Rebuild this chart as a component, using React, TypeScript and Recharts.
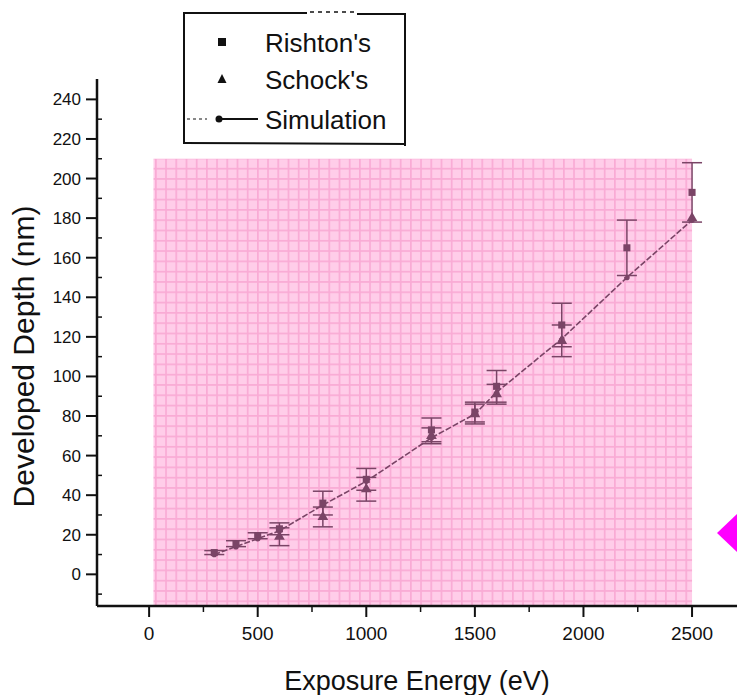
import {
  ComposedChart,
  Scatter,
  Line,
  XAxis,
  YAxis,
  ZAxis,
  ReferenceArea,
  ErrorBar,
  Label,
} from "recharts"

// simulated depth curve (eV -> nm)
const simEnergy = [300, 400, 500, 600, 800, 1000, 1300, 1500, 1600, 1900, 2200, 2500]
const simDepth = [10, 14, 18, 22, 35, 47, 69, 81, 92, 119, 150, 179]

// Rishton's measurements
const rishtonEnergy = [300, 400, 500, 600, 800, 1000, 1300, 1500, 1600, 1900, 2200, 2500]
const rishtonDepth = [11, 15.5, 19.5, 23, 36, 48, 73, 82, 95, 126, 165, 193]
const rishtonErr = [1, 1.5, 1.5, 3, 6, 5.5, 6, 5, 8, 11, 14, 15]

// Schock's measurements
const schockEnergy = [600, 800, 1000, 1300, 1500, 1600, 1900, 2500]
const schockDepth = [19, 29, 43, 70, 81, 91, 118, 180]
const schockErr = [4.5, 5, 6, 4, 5, 5, 8, 0]

const xTicks = [0, 250, 500, 750, 1000, 1250, 1500, 1750, 2000, 2250, 2500]
const yTicks = [
  -10, 0, 10, 20, 30, 40, 50, 60, 70, 80, 90, 100, 110, 120, 130, 140, 150, 160, 170, 180, 190,
  200, 210, 220, 230, 240,
]

const simulation = simEnergy.map((energy, i) => ({ energy, depth: simDepth[i] }))
const rishton = rishtonEnergy.map((energy, i) => ({ energy, depth: rishtonDepth[i], err: rishtonErr[i] }))
const schock = schockEnergy.map((energy, i) => ({ energy, depth: schockDepth[i], err: schockErr[i] }))

const FONT = "'Liberation Sans', Arial, Helvetica, sans-serif"
const INK = "#111"
const MARK = "#7a4466"

function YTick({ x, y, payload }: any) {
  const v = payload.value
  if (v % 20 !== 0) {
    return <line x1={x} y1={y} x2={x + 5} y2={y} stroke={INK} strokeWidth={1.5} />
  }
  return (
    <g>
      <line x1={x - 11} y1={y} x2={x} y2={y} stroke={INK} strokeWidth={2} />
      <text x={x - 16} y={y} dy={6} textAnchor="end" fontSize={17} fontFamily={FONT} fill={INK}>
        {v}
      </text>
    </g>
  )
}

function XTick({ x, y, payload }: any) {
  const v = payload.value
  if (v % 500 !== 0) {
    return <line x1={x} y1={y} x2={x} y2={y + 6} stroke={INK} strokeWidth={1.5} />
  }
  return (
    <g>
      <line x1={x} y1={y} x2={x} y2={y + 11} stroke={INK} strokeWidth={2} />
      <text x={x} y={y + 34} textAnchor="middle" fontSize={19} fontFamily={FONT} fill={INK}>
        {v}
      </text>
    </g>
  )
}

function YTitle({ viewBox }: any) {
  const cx = viewBox.x + 23
  const cy = viewBox.y + viewBox.height / 2 + 14
  return (
    <text
      x={cx}
      y={cy}
      transform={`rotate(-90 ${cx} ${cy})`}
      textAnchor="middle"
      dominantBaseline="central"
      fontSize={30}
      fontFamily={FONT}
      fill={INK}
    >
      Developed Depth (nm)
    </text>
  )
}

function LegendBox() {
  return (
    <svg width={737} height={695} style={{ position: "absolute", left: 0, top: 0, pointerEvents: "none" }}>
      <g stroke={INK} fill="none">
        <line x1={183} y1={13} x2={307} y2={13} strokeWidth={2} />
        <line x1={310} y1={12} x2={356} y2={12} strokeWidth={1.5} strokeDasharray="4 4" />
        <line x1={357} y1={14} x2={406} y2={14} strokeWidth={2} />
        <line x1={184} y1={12} x2={184} y2={144} strokeWidth={2} />
        <line x1={405} y1={14} x2={405} y2={146} strokeWidth={2} />
        <line x1={183} y1={143} x2={406} y2={144} strokeWidth={2} />
      </g>
      <rect x={218} y={38} width={8} height={8} fill={INK} />
      <polygon points="222,74 217.5,83 226.5,83" fill={INK} />
      <line x1={187} y1={119} x2={207} y2={119} stroke={INK} strokeWidth={1} strokeDasharray="3 3" />
      <line x1={219} y1={119} x2={258} y2={119} stroke={INK} strokeWidth={2} />
      <circle cx={219} cy={119} r={3.5} fill={INK} />
      <g fontFamily={FONT} fontSize={26} fill={INK}>
        <text x={265} y={52}>Rishton's</text>
        <text x={265} y={89}>Schock's</text>
        <text x={265} y={129}>Simulation</text>
      </g>
      <polygon points="717,533 737,514 737,552" fill="#ff00ff" />
    </svg>
  )
}

export default function App() {
  return (
    <div style={{ position: "absolute", left: 0, top: 0, width: 737, height: 695, background: "#fff" }}>
      <ComposedChart width={737} height={695} margin={{ top: 79, right: 0, bottom: 0, left: 0 }}>
        <defs>
          <pattern id="pinkGrid" patternUnits="userSpaceOnUse" x={2} y={3} width={10.2} height={10.3}>
            <rect width={10.2} height={10.3} fill="#ffcde9" />
            <rect x={0} y={0} width={1.7} height={10.3} fill="#f9abd5" />
            <rect x={0} y={0} width={10.2} height={1.7} fill="#f9abd5" />
          </pattern>
        </defs>
        <XAxis
          type="number"
          dataKey="energy"
          domain={[-240, 2707]}
          allowDataOverflow
          ticks={xTicks}
          interval={0}
          tick={<XTick />}
          tickLine={false}
          tickSize={0}
          tickMargin={0}
          axisLine={{ stroke: INK, strokeWidth: 2.5 }}
          height={89}
        >
          <Label
            value="Exposure Energy (eV)"
            position="insideBottom"
            offset={5}
            fontSize={27}
            fontFamily={FONT}
            fill={INK}
          />
        </XAxis>
        <YAxis
          type="number"
          dataKey="depth"
          domain={[-16, 250.3]}
          allowDataOverflow
          ticks={yTicks}
          interval={0}
          tick={<YTick />}
          tickLine={false}
          tickSize={0}
          tickMargin={0}
          axisLine={{ stroke: INK, strokeWidth: 2.5 }}
          width={97}
        >
          <Label content={<YTitle />} />
        </YAxis>
        <ZAxis range={[50, 50]} />
        <ReferenceArea x1={20} x2={2500} y1={-16} y2={210} fill="url(#pinkGrid)" fillOpacity={1} stroke="none" />
        <Line
          data={simulation}
          dataKey="depth"
          type="linear"
          stroke={MARK}
          strokeWidth={1.6}
          strokeDasharray="6 2"
          dot={{ r: 2, fill: MARK, stroke: MARK }}
          isAnimationActive={false}
        />
        <Scatter data={rishton} dataKey="depth" shape="square" fill={MARK} isAnimationActive={false}>
          <ErrorBar dataKey="err" direction="y" width={10} stroke={MARK} strokeWidth={1.5} isAnimationActive={false} />
        </Scatter>
        <Scatter data={schock} dataKey="depth" shape="triangle" fill={MARK} isAnimationActive={false}>
          <ErrorBar dataKey="err" direction="y" width={10} stroke={MARK} strokeWidth={1.5} isAnimationActive={false} />
        </Scatter>
      </ComposedChart>
      <LegendBox />
    </div>
  )
}
